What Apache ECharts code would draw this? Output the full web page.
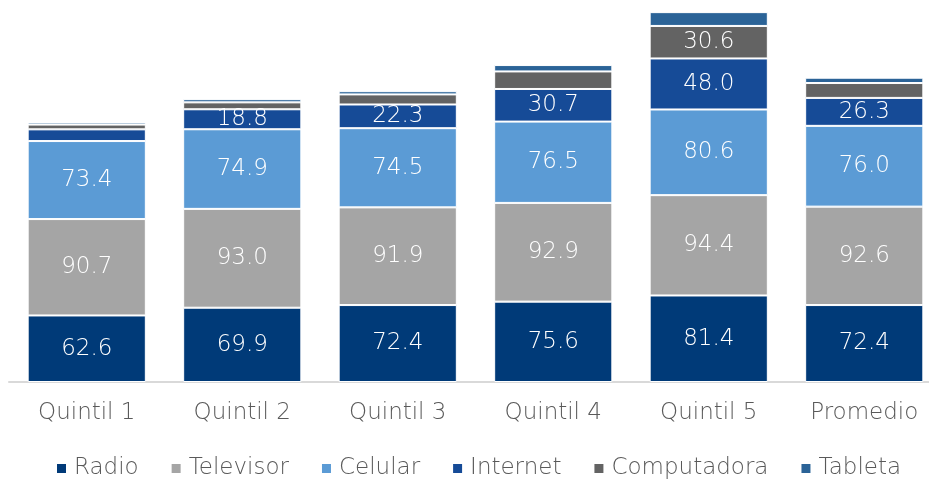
<!DOCTYPE html>
<html>
<head>
<meta charset="utf-8">
<script src="https://cdn.jsdelivr.net/npm/echarts@6/dist/echarts.min.js"></script>
<style>
html,body{margin:0;padding:0;background:#fff;}
#chart{width:929px;height:479px;}
</style>
</head>
<body>
<div id="chart"></div>
<script>
var categories = ['Quintil 1', 'Quintil 2', 'Quintil 3', 'Quintil 4', 'Quintil 5', 'Promedio'];
var radio = [62.6, 69.9, 72.4, 75.6, 81.4, 72.4];
var televisor = [90.7, 93.0, 91.9, 92.9, 94.4, 92.6];
var celular = [73.4, 74.9, 74.5, 76.5, 80.6, 76.0];
var internet = [11.0, 18.8, 22.3, 30.7, 48.0, 26.3];
var computadora = [4.5, 6.5, 9.5, 16.5, 30.6, 14.0];
var tableta = [2.0, 3.0, 3.0, 6.0, 13.0, 5.0];

var font = 'DejaVu Sans';

function makeSeries(name, data, color){
    return {
        name: name,
        type: 'bar',
        stack: 'total',
        barWidth: '76%',
        data: data,
        itemStyle: {color: color, borderColor: '#fff', borderWidth: 1},
        label: {
            show: true,
            position: 'inside',
            color: '#fff',
            fontFamily: font,
            fontWeight: 200,
            fontSize: 23,
            formatter: function(p){ return p.value >= 18 ? p.value.toFixed(1) : ''; }
        }
    };
}

var chart = echarts.init(document.getElementById('chart'));
chart.setOption({
    animation: false,
    grid: {left: 9, width: 933, top: 10, bottom: 97, outerBoundsMode: 'none', containLabel: false},
    legend: {
        bottom: -6,
        left: 50,
        itemWidth: 11,
        itemHeight: 11,
        itemGap: 31,
        icon: 'rect',
        textStyle: {color: '#595959', fontFamily: font, fontWeight: 200, fontSize: 23, padding: [0, 0, 0, 2]},
        data: ['Radio', 'Televisor', 'Celular', 'Internet', 'Computadora', 'Tableta']
    },
    xAxis: {
        type: 'category',
        data: categories,
        axisLine: {lineStyle: {color: '#d9d9d9', width: 2}},
        axisTick: {show: false},
        axisLabel: {color: '#595959', fontFamily: font, fontWeight: 200, fontSize: 23, margin: 20}
    },
    yAxis: {
        type: 'value',
        min: 0,
        max: 350,
        show: false,
        splitLine: {show: false}
    },
    series: [
        makeSeries('Radio', radio, '#003a78'),
        makeSeries('Televisor', televisor, '#a5a5a5'),
        makeSeries('Celular', celular, '#5b9bd5'),
        makeSeries('Internet', internet, '#164b97'),
        makeSeries('Computadora', computadora, '#636363'),
        makeSeries('Tableta', tableta, '#2b6397')
    ]
});
</script>
</body>
</html>
